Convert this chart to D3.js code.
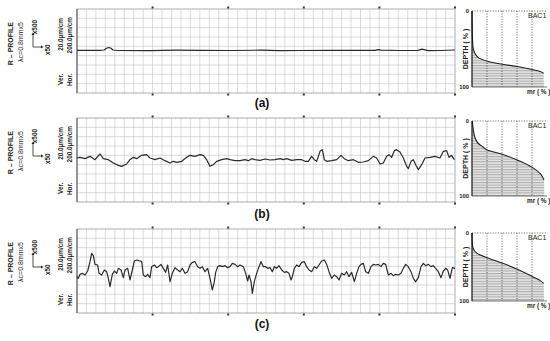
<!DOCTYPE html>
<html><head><meta charset="utf-8">
<script src="https://cdn.jsdelivr.net/npm/d3@7"></script>
<style>html,body{margin:0;padding:0;background:#fff;}svg{display:block;font-family:"Liberation Sans",Arial,sans-serif;}</style>
</head><body>
<script>
// ---------- DATA ----------
const panelNames = ["(a)", "(b)", "(c)"];
const leftTitle = ["R – PROFILE", "λc=0.8mmx5"];
const verLabel = ["Ver.", "20.0µm/cm"];
const horLabel = ["Hor.", "200.0µm/cm"];
const magLabels = ["x500", "x50"];
const bearingLabels = {depth: "DEPTH ( % )", mr: "mr ( % )", tag: "BAC1", top: "0", bottom: "100"};

// profile positions (trace units along evaluation length) and heights (trace units)
const posA = [6,75,87,96,102,108,114,129,225,300,375,465,555,615,675,765,855,900,909,918,975,1029,1041,1050,1059,1095,1140];
const heightA = [2,2,3,9,10.5,8.4,3,1.5,1.2,2.4,2,1.5,2.4,0.9,1.5,2,1.8,2,4.2,2.4,1.5,2,5.4,3.6,1.2,1.5,3];

const posB = [6,15,30,45,60,75,85,100,115,130,140,155,165,175,185,200,215,225,240,255,270,285,295,305,320,335,345,360,375,385,395,405,415,425,440,455,465,480,495,510,520,530,540,555,570,585,600,615,625,635,650,665,680,690,700,710,718,725,735,742,748,755,770,785,798,808,820,835,850,865,880,895,905,915,925,935,942,950,958,965,975,985,995,1000,1008,1015,1022,1030,1040,1050,1065,1080,1095,1105,1115,1122,1130,1138];
const heightB = [6,8,4,11,1,18,4,1,-9,-16,-19,-12,1,8,4,14,16,6,1,6,-2,-9,-4,-7,-4,8,14,11,16,14,1,-19,-14,-4,1,4,1,-2,-2,1,-2,4,1,-1,3,0,1,4,1,4,-1,1,1,-4,-4,11,1,-4,26,31,1,-4,-2,1,14,4,-2,1,-7,-6,-2,11,6,-12,-9,11,16,8,28,31,24,6,-19,-26,-4,1,-14,-29,-14,6,8,11,6,26,28,8,14,1];

const posC = [6,10,15,22,30,38,45,50,55,60,68,72,80,88,95,100,105,112,118,125,130,138,145,150,158,165,172,178,185,195,200,205,212,218,225,230,238,245,250,258,265,272,278,285,292,300,308,315,322,330,338,345,352,360,368,375,382,390,398,405,412,418,422,428,435,442,450,458,465,472,480,488,495,505,512,518,522,528,532,538,545,552,558,565,572,578,585,592,598,605,612,620,628,635,642,648,652,658,665,672,680,688,695,702,710,718,725,732,740,748,755,762,770,778,785,792,800,808,815,822,830,838,845,852,858,865,872,880,888,895,902,910,918,925,932,940,948,955,962,970,978,985,992,1000,1008,1015,1022,1030,1038,1045,1052,1060,1068,1075,1082,1090,1098,1105,1112,1118,1125,1132,1140];
const heightC = [-17,-22,-10,-7,-12,0,28,53,46,20,18,-7,-12,3,-2,-22,-47,-10,0,-7,8,3,-20,3,8,-27,3,30,33,30,28,-12,-17,-10,-20,13,18,10,13,20,8,-4,18,-32,-7,10,3,-2,8,-7,-2,18,26,28,13,8,13,-2,8,-22,-57,-32,-4,13,16,13,16,10,13,23,20,13,18,13,-7,-30,-12,-32,-67,-32,-7,13,28,13,13,8,10,-2,13,8,16,3,-4,-2,-7,-27,-17,8,18,13,26,28,13,3,-2,13,8,18,30,33,20,-2,-22,-12,-17,-27,-7,-12,-2,-17,-4,-32,-7,13,20,23,-2,-7,13,20,18,20,13,23,20,-12,-7,-14,-10,-12,-7,8,20,13,-2,-22,-32,-20,13,23,16,20,13,16,8,-2,-20,0,8,3,-22,10,8];

// bearing (Abbott) curves: material ratio mr (%) vs depth (%)
const mrA = [0,0.4,1.3,4,9.3,20.4,40.4,60.4,80.4,91.6,95.5,96];
const depthA = [0,29,47,56,62,66,70,73,77,80,82,100];
const mrB = [0.4,1.8,3.6,8.4,13.8,20.4,40.4,60.4,80.4,91.6,96,96.5];
const depthB = [0,12,21,30,34,38.7,44.4,52,61.8,70.7,78.7,100];
const mrC = [0,0.4,1.3,6.7,22,42,62,82,91,95.6,96];
const depthC = [0,15,22,30,37,45,54,65,70,74,100];

// ---------- DRAW ----------
const W = 550, H = 341;
const svg = d3.select("body").append("svg").attr("width", W).attr("height", H);

const defs = svg.append("defs");
const pat = defs.append("pattern").attr("id","hatch").attr("patternUnits","userSpaceOnUse")
  .attr("width",4).attr("height",2.6);
pat.append("rect").attr("width",4).attr("height",2.6).attr("fill","#e6e6e6");
pat.append("line").attr("x1",0).attr("x2",4).attr("y1",0.6).attr("y2",0.6).attr("stroke","#a0a0a0").attr("stroke-width",0.9);

const gridLeft = 77, gridRight = 455, panelH = 84;
const panelTops = [9, 118, 229];
const bearTops = [11, 121, 233];
const bearHs = [76, 75, 68];
const bearLeft = 472, bearW = 75;
const nameY = [107, 218, 328];

const xProf = d3.scaleLinear().domain([0, 1146]).range([75, 457]);
const profiles = [[posA, heightA], [posB, heightB], [posC, heightC]];
const bearings = [[mrA, depthA], [mrB, depthB], [mrC, depthC]];

panelTops.forEach((top, i) => {
  const g = svg.append("g");
  const y = d3.scaleLinear().domain([-126, 126]).range([top + panelH, top]);

  // grid
  const gx = d3.scaleLinear().domain([0, 40]).range([gridLeft, gridRight]);
  const gy = d3.scaleLinear().domain([0, 9]).range([top, top + panelH]);
  g.selectAll(".vg").data(d3.range(1, 40)).join("line")
    .attr("x1", d => gx(d)).attr("x2", d => gx(d)).attr("y1", top).attr("y2", top + panelH)
    .attr("stroke", "#c2c2c2").attr("stroke-width", 0.6);
  g.selectAll(".hg").data(d3.range(1, 9)).join("line")
    .attr("x1", gridLeft).attr("x2", gridRight).attr("y1", d => gy(d)).attr("y2", d => gy(d))
    .attr("stroke", "#c2c2c2").attr("stroke-width", 0.6);
  g.append("rect").attr("x", gridLeft).attr("y", top).attr("width", gridRight - gridLeft).attr("height", panelH)
    .attr("fill", "none").attr("stroke", "#9a9a9a").attr("stroke-width", 0.8);
  g.append("line").attr("x1", gridLeft).attr("x2", gridLeft).attr("y1", top).attr("y2", top + panelH)
    .attr("stroke", "#555").attr("stroke-width", 1);
  // tick dots
  const dots = d3.range(1, 6).map(k => gx(k * 8));
  g.selectAll(".dt").data(dots).join("rect").attr("x", d => d - 1).attr("y", top - 2.5).attr("width", 2).attr("height", 2).attr("fill", "#333");
  g.selectAll(".db").data(dots).join("rect").attr("x", d => d - 1).attr("y", top + panelH + 0.5).attr("width", 2).attr("height", 2).attr("fill", "#333");

  // profile line
  const [pos, hts] = profiles[i];
  const line = d3.line().x(d => xProf(d[0])).y(d => y(d[1]));
  g.append("path").datum(pos.map((p, k) => [p, hts[k]]))
    .attr("d", line).attr("fill", "none").attr("stroke", "#2b2b2b").attr("stroke-width", 1.2).attr("stroke-linejoin", "round");

  // left labels (rotated)
  const lt = top + 13;
  const rot = (x, yy, txt, opts) => {
    const t = g.append("text").attr("transform", `translate(${x},${yy}) rotate(-90)`)
      .attr("text-anchor", opts.anchor || "end").attr("font-size", opts.size || 6.6)
      .attr("font-weight", opts.weight || "normal").attr("fill", "#222").text(txt);
    return t;
  };
  rot(13, lt, leftTitle[0], {weight: "bold", size: 7});
  rot(23, lt, leftTitle[1], {size: 7});
  rot(37, top + 11, magLabels[0], {weight: "bold", size: 6.4});
  rot(50, top + 46, magLabels[1], {weight: "bold", size: 6.4, anchor: "start"});
  // magnification symbol
  g.append("path").attr("d", `M33,${top + 38} L33,${top + 25} M42,${top + 38} L33,${top + 38}`)
    .attr("stroke", "#222").attr("stroke-width", 0.8).attr("fill", "none");
  g.append("path").attr("d", `M31.5,${top + 26} L33,${top + 23.5} L34.5,${top + 26} Z`).attr("fill", "#222");
  g.append("path").attr("d", `M41,${top + 36.5} L43.5,${top + 38} L41,${top + 39.5} Z`).attr("fill", "#222");
  rot(63, top + 9, verLabel[1], {weight: "bold", size: 6.4});
  rot(63, top + 76, verLabel[0], {weight: "bold", size: 6.4, anchor: "start"});
  rot(72, top + 8, horLabel[1], {weight: "bold", size: 6.4});
  rot(72, top + 77, horLabel[0], {weight: "bold", size: 6.4, anchor: "start"});

  // panel name
  g.append("text").attr("x", 262).attr("y", nameY[i]).attr("text-anchor", "middle")
    .attr("font-size", 12).attr("font-weight", "bold").attr("fill", "#111").text(panelNames[i]);

  // bearing curve panel
  const bt = bearTops[i], bh = bearHs[i];
  const mx = d3.scaleLinear().domain([0, 100]).range([bearLeft, bearLeft + bearW]);
  const dy = d3.scaleLinear().domain([0, 100]).range([bt, bt + bh]);
  const [mr, dep] = bearings[i];
  const pts = mr.map((m, k) => [m, dep[k]]);
  const area = d3.area().x(d => mx(d[0])).y0(dy(100)).y1(d => dy(d[1]));
  g.append("path").datum(pts).attr("d", area).attr("fill", "url(#hatch)");
  [20, 40, 60, 80].forEach(v => {
    g.append("line").attr("x1", mx(v)).attr("x2", mx(v)).attr("y1", bt).attr("y2", bt + bh)
      .attr("stroke", "#333").attr("stroke-width", 0.8).attr("stroke-dasharray", "1,1.6");
  });
  g.append("line").attr("x1", bearLeft).attr("x2", bearLeft + bearW).attr("y1", bt).attr("y2", bt)
    .attr("stroke", "#333").attr("stroke-width", 0.8).attr("stroke-dasharray", "1,1.6");
  g.append("line").attr("x1", bearLeft).attr("x2", bearLeft + bearW).attr("y1", bt + bh).attr("y2", bt + bh)
    .attr("stroke", "#555").attr("stroke-width", 0.8);
  g.append("path").datum(pts.filter(d => d[1] < 100))
    .attr("d", d3.line().x(d => mx(d[0])).y(d => dy(d[1])).curve(d3.curveMonotoneY))
    .attr("fill", "none").attr("stroke", "#222").attr("stroke-width", 1.1);
  g.append("line").attr("x1", bearLeft).attr("x2", bearLeft).attr("y1", bt).attr("y2", bt + bh)
    .attr("stroke", "#111").attr("stroke-width", 1.2);
  g.append("text").attr("x", bearLeft - 3).attr("y", bt + 2).attr("text-anchor", "end")
    .attr("font-size", 5.8).attr("font-weight", "bold").attr("fill", "#222").text(bearingLabels.top);
  g.append("text").attr("x", bearLeft - 3).attr("y", bt + bh + 2).attr("text-anchor", "end")
    .attr("font-size", 5.8).attr("font-weight", "bold").attr("fill", "#222").text(bearingLabels.bottom);
  g.append("text").attr("transform", `translate(${bearLeft - 4},${bt + bh / 2}) rotate(-90)`)
    .attr("text-anchor", "middle").attr("font-size", 7).attr("font-weight", "bold").attr("fill", "#222").text(bearingLabels.depth);
  g.append("text").attr("x", 527).attr("y", bt + bh + 7).attr("font-size", 6.4).attr("font-weight", "bold")
    .attr("fill", "#222").text(bearingLabels.mr);
  g.append("text").attr("x", 528).attr("y", bt + 7).attr("font-size", 7).attr("fill", "#222").text(bearingLabels.tag);
});
</script>
</body></html>
